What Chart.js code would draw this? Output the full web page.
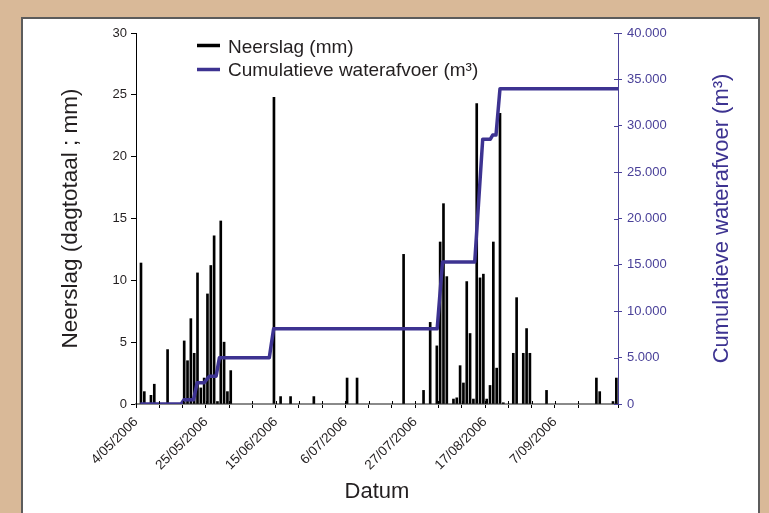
<!DOCTYPE html>
<html>
<head>
<meta charset="utf-8">
<script src="https://cdn.jsdelivr.net/npm/chart.js@4.4.1/dist/chart.umd.min.js"></script>
<style>
  html, body { margin: 0; padding: 0; }
  body { width: 769px; height: 513px; background: #d9b998; position: relative; overflow: hidden; }
  .panel { position: absolute; left: 21px; top: 17px; width: 735px; height: 520px; background: #fff;
           border: 2px solid #5c5c5c; border-bottom: none; }
  .wrap { position: absolute; left: 0; top: 0; width: 769px; height: 513px; }
</style>
</head>
<body>
<div class="panel"></div>
<div class="wrap"><canvas id="chart"></canvas></div>
<script>
// dagen sinds 4/05/2006 (dag 0)
var rainDays = [1, 2, 4, 5, 9, 14, 15, 16, 17, 18, 19, 20, 21, 22, 23, 24, 25, 26, 27, 28,
    41, 43, 46, 53, 63, 66, 80, 86, 88, 90, 91, 92, 93, 95, 96, 97, 98, 99, 100, 101,
    102, 103, 104, 105, 106, 107, 108, 109, 110, 113, 114, 116, 117, 118, 123, 138, 139, 143, 144];
var rainMm = [11.4, 1.0, 0.7, 1.6, 4.4, 5.1, 3.5, 6.9, 4.1, 10.6, 1.3, 2.1, 8.9, 11.2, 13.6, 0.2, 14.8, 5.0, 1.0, 2.7,
    24.8, 0.6, 0.6, 0.6, 2.1, 2.1, 12.1, 1.1, 6.6, 4.7, 13.1, 16.2, 10.3, 0.4, 0.5, 3.1, 1.7, 9.9, 5.7, 0.4,
    24.3, 10.2, 10.5, 0.4, 1.5, 13.1, 2.9, 23.5, 0.1, 4.1, 8.6, 4.1, 6.1, 4.1, 1.1, 2.1, 1.0, 0.2, 2.1];

// cumulatieve waterafvoer, knikpunten van de lijn
var flowDays = [1.3, 13.6, 14.4, 17.3, 18.4, 20.5, 22.1, 24.1, 25.1, 40.1, 41.4, 90.6, 92.2, 101.9, 104.3, 106.6, 107.3, 108.3, 109.5, 145];
var flowM3 = [0, 0, 450, 450, 2300, 2300, 3000, 3000, 5000, 5000, 8100, 8100, 15300, 15300, 28550, 28550, 29000, 29000, 34000, 34000];

var xTickLabels = ["4/05/2006", "25/05/2006", "15/06/2006", "6/07/2006", "27/07/2006", "17/08/2006", "7/09/2006"];
var leftTicks = [0, 5, 10, 15, 20, 25, 30];
var rightTicks = [0, 5000, 10000, 15000, 20000, 25000, 30000, 35000, 40000];

var FONT = "'Liberation Sans', Arial, sans-serif";
var PURPLE = "#3d3391";
var AXIS_PURPLE = "#4a4199";

function formatNumber(num) {
    return num.toString().replace(/(\d)(?=(\d{3})+(?!\d))/g, "$1.");
}

// legende en rechtse titel zelf tekenen
var extrasPlugin = {
    id: 'extras',
    afterDraw: function (chart) {
        var ctx = chart.ctx;
        var a = chart.chartArea;
        ctx.save();

        // kleine streepjes die de x-as en rechtse as kruisen
        var xs = chart.scales.x;
        ctx.strokeStyle = '#000';
        ctx.lineWidth = 1;
        xs.ticks.forEach(function (t) {
            if (t.value >= 145) return;
            var px = Math.round(xs.getPixelForValue(t.value)) + 0.5;
            ctx.beginPath(); ctx.moveTo(px, a.bottom - 3); ctx.lineTo(px, a.bottom); ctx.stroke();
        });
        var ys = chart.scales.y1;
        ctx.strokeStyle = AXIS_PURPLE;
        ys.ticks.forEach(function (t) {
            var py = Math.round(ys.getPixelForValue(t.value)) + 0.5;
            ctx.beginPath(); ctx.moveTo(a.right - 4, py); ctx.lineTo(a.right, py); ctx.stroke();
        });

        // legende
        ctx.lineWidth = 3.5;
        ctx.strokeStyle = '#000';
        ctx.beginPath(); ctx.moveTo(a.left + 61, a.top + 12.5); ctx.lineTo(a.left + 84, a.top + 12.5); ctx.stroke();
        ctx.strokeStyle = PURPLE;
        ctx.beginPath(); ctx.moveTo(a.left + 61, a.top + 36.5); ctx.lineTo(a.left + 84, a.top + 36.5); ctx.stroke();
        ctx.fillStyle = '#231f20';
        ctx.font = '19px ' + FONT;
        ctx.textAlign = 'left';
        ctx.textBaseline = 'middle';
        ctx.fillText('Neerslag (mm)', a.left + 92, a.top + 15);
        ctx.fillText('Cumulatieve waterafvoer (m³)', a.left + 92, a.top + 37.5);

        // titel rechtse as
        ctx.translate(722, (a.top + a.bottom) / 2);
        ctx.rotate(-Math.PI / 2);
        ctx.fillStyle = PURPLE;
        ctx.font = '22px ' + FONT;
        ctx.textAlign = 'center';
        ctx.fillText('Cumulatieve waterafvoer (m³)', 0, 0);
        ctx.restore();
    }
};

var rainPoints = rainDays.map(function (d, i) { return { x: d + 0.5, y: rainMm[i] }; });
var flowPoints = flowDays.map(function (d, i) { return { x: d, y: flowM3[i] }; });

new Chart(document.getElementById('chart').getContext('2d'), {
    type: 'bar',
    data: {
        datasets: [{
            type: 'bar',
            label: 'Neerslag (mm)',
            data: rainPoints,
            backgroundColor: '#000',
            barThickness: 2,
            yAxisID: 'y',
            order: 2
        }, {
            type: 'line',
            label: 'Cumulatieve waterafvoer (m³)',
            data: flowPoints,
            borderColor: PURPLE,
            borderWidth: 3.5,
            borderJoinStyle: 'round',
            pointRadius: 0,
            tension: 0,
            fill: false,
            yAxisID: 'y1',
            order: 1
        }]
    },
    options: {
        responsive: true,
        maintainAspectRatio: false,
        animation: false,
        layout: { padding: { left: 53, top: 33, right: 0, bottom: 4 } },
        plugins: { legend: { display: false }, tooltip: { enabled: false } },
        scales: {
            x: {
                type: 'linear',
                min: 0,
                max: 145,
                offset: false,
                grid: { offset: false, drawOnChartArea: false, color: '#000', tickLength: 4 },
                border: { color: '#8a8a8a', width: 2 },
                ticks: {
                    stepSize: 7,
                    autoSkip: false,
                    minRotation: 45,
                    maxRotation: 45,
                    padding: 6,
                    color: '#231f20',
                    font: { family: FONT, size: 13.5 },
                    callback: function (value) {
                        if (value % 21 === 0 && xTickLabels[value / 21]) return xTickLabels[value / 21];
                        return '';
                    }
                },
                title: { display: true, text: 'Datum', color: '#231f20', padding: { top: 0, bottom: 4 },
                         font: { family: FONT, size: 22 } },
                afterFit: function (s) { s.height = 105; }
            },
            y: {
                position: 'left',
                min: 0,
                max: 30,
                afterBuildTicks: function (s) { s.ticks = leftTicks.map(function (v) { return { value: v }; }); },
                grid: { drawOnChartArea: false, color: '#000', tickLength: 5 },
                border: { color: '#000', width: 1 },
                ticks: { padding: 4, color: '#231f20', font: { family: FONT, size: 13 } },
                title: { display: true, text: 'Neerslag (dagtotaal ; mm)', color: '#231f20', padding: { top: 4, bottom: 0 },
                         font: { family: FONT, size: 22.5 } },
                afterFit: function (s) { s.width = 83; }
            },
            y1: {
                position: 'right',
                min: 0,
                max: 40000,
                afterBuildTicks: function (s) { s.ticks = rightTicks.map(function (v) { return { value: v }; }); },
                grid: { drawOnChartArea: false, color: AXIS_PURPLE, tickLength: 4 },
                border: { color: AXIS_PURPLE, width: 1 },
                ticks: { padding: 5, color: AXIS_PURPLE, font: { family: FONT, size: 13 },
                         callback: function (v) { return formatNumber(v); } },
                afterFit: function (s) { s.width = 151; }
            }
        }
    },
    plugins: [extrasPlugin]
});
</script>
</body>
</html>
